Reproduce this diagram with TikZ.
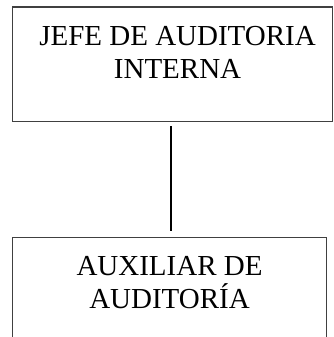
\documentclass[tikz,border=0pt]{standalone}
\usepackage{fontspec}
\setmainfont{Liberation Serif}
\begin{document}
\begin{tikzpicture}[x=1pt,y=-1pt,
    caja/.style={draw=black!75,line width=1.1pt,inner sep=0pt,anchor=north west},
    enlace/.style={line width=2pt,shorten <=4.5pt,shorten >=6pt}]
  \useasboundingbox (0,0) rectangle (333,337);
  \clip (0,0) rectangle (333,337);
  \node [caja] (jefe) at (12,6.5) {\parbox[t][114pt][t]{320pt}{\fontsize{29}{33}\selectfont\centering\leftskip=10pt plus 1fil\rule{0pt}{38.5pt}JEFE DE AUDITORIA\\INTERNA}};
  \node [caja] (aux) at (12,237) {\parbox[t][120pt][t]{314pt}{\fontsize{29}{32.5}\selectfont\centering\rule{0pt}{38pt}AUXILIAR DE\\AUDITORÍA}};
  \draw [enlace] ([xshift=-2pt]jefe.south) -- ([xshift=-2pt]jefe.south |- aux.north);
\end{tikzpicture}
\end{document}
